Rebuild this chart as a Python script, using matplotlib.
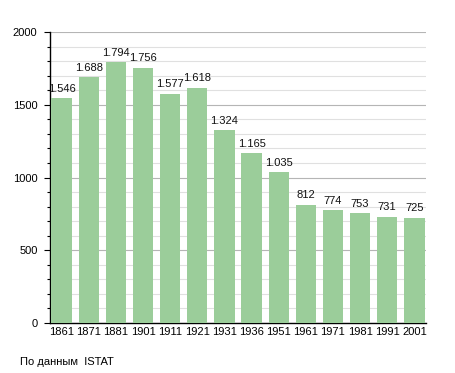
import matplotlib
matplotlib.use("Agg")
import matplotlib.pyplot as plt
from matplotlib.ticker import MultipleLocator

years = ["1861", "1871", "1881", "1901", "1911", "1921", "1931", "1936",
         "1951", "1961", "1971", "1981", "1991", "2001"]
population = [1546, 1688, 1794, 1756, 1577, 1618, 1324, 1165,
              1035, 812, 774, 753, 731, 725]
source_note = "По данным  ISTAT"

plt.rcParams['font.family'] = ['Liberation Sans', 'DejaVu Sans']

fig = plt.figure(figsize=(4.55, 3.73), dpi=100)
ax = fig.add_axes([50/455, 50/373, 376/455, 291/373])

x = list(range(len(years)))
ax.bar(x, population, width=0.75, color='#9bcd9a', edgecolor='none', zorder=3)

for xi, v in zip(x, population):
    lbl = f"{v:,}".replace(",", ".")
    ax.text(xi, v + 30, lbl, ha='center', va='bottom', fontsize=8, color='#111111', zorder=4)

ax.set_xlim(-0.43, 13.43)
ax.set_ylim(0, 2000)
ax.yaxis.set_major_locator(MultipleLocator(500))
ax.yaxis.set_minor_locator(MultipleLocator(100))
ax.grid(axis='y', which='minor', color='#e0e0e0', linewidth=0.8, zorder=0)
ax.grid(axis='y', which='major', color='#b5b5b5', linewidth=0.8, zorder=1)

ax.set_xticks(x)
ax.set_xticklabels(years, fontsize=8)
ax.tick_params(axis='x', length=0, pad=3)
ax.tick_params(axis='y', which='major', length=4, width=0.8, labelsize=8, pad=5)
ax.tick_params(axis='y', which='minor', length=2.5, width=0.8)

for s in ['top', 'right']:
    ax.spines[s].set_visible(False)
ax.spines['left'].set_linewidth(1.0)
ax.spines['bottom'].set_linewidth(1.0)

fig.text(20/455, 1 - 362/373, source_note, fontsize=8, ha='left', va='center')

fig.savefig("out.png", dpi=100)
